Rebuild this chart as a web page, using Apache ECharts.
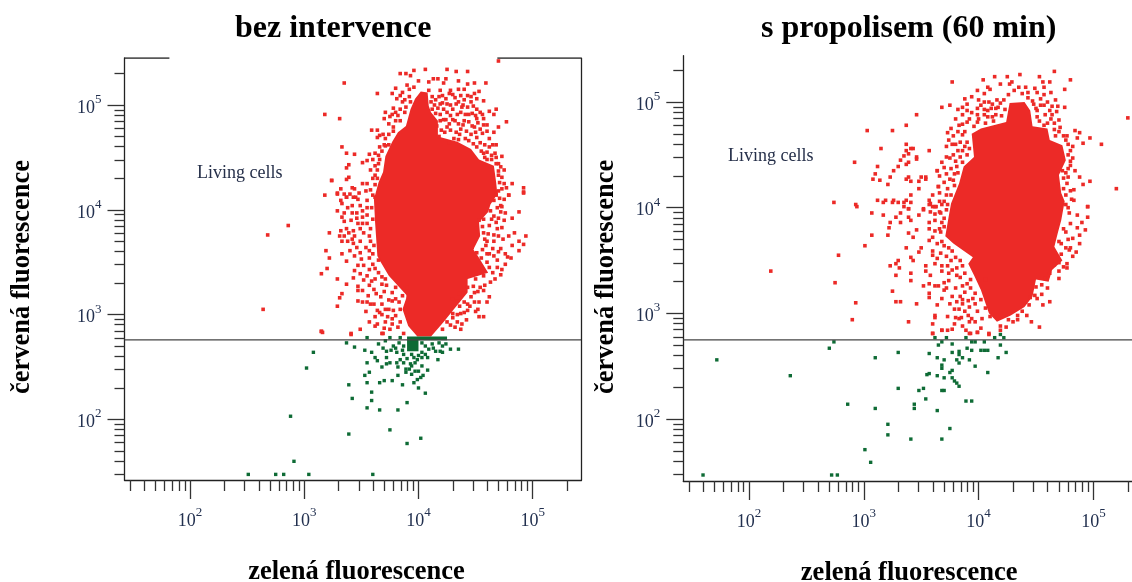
<!DOCTYPE html>
<html><head><meta charset="utf-8">
<style>html,body{margin:0;padding:0;background:#fff}#c{width:1132px;height:582px}</style>
<script src="https://cdn.jsdelivr.net/npm/echarts@6/dist/echarts.min.js"></script>
</head><body><div id="c"></div>
<script>
// All readings are decades: [log10(green), log10(red)]
const panelTitles = ['bez intervence', 's propolisem (60 min)'];
const xName = 'zelená fluorescence';
const yName = 'červená fluorescence';
const gateLabel = 'Living cells';
const majorTicks = [100, 1000, 10000, 100000];
const minorTicks = [30,40,50,60,70,80,90,200,300,400,500,600,700,800,900,2000,3000,4000,5000,6000,7000,8000,9000,20000,30000,40000,50000,60000,70000,80000,90000,200000];
const gateA = 575, gateB = 560;

const blobA = [[4.02,5.13],[4.08,5.12],[4.09,4.99],[4.11,4.93],[4.17,4.85],[4.17,4.70],[4.34,4.65],[4.46,4.58],[4.53,4.48],[4.66,4.42],[4.68,4.26],[4.69,4.15],[4.63,4.05],[4.61,3.98],[4.53,3.88],[4.54,3.75],[4.48,3.62],[4.52,3.56],[4.61,3.40],[4.43,3.34],[4.43,3.21],[4.31,3.05],[4.22,2.93],[4.11,2.79],[3.99,2.79],[3.91,2.89],[3.86,3.05],[3.90,3.18],[3.74,3.37],[3.67,3.50],[3.64,3.56],[3.62,3.88],[3.61,4.10],[3.65,4.26],[3.69,4.36],[3.71,4.51],[3.77,4.65],[3.82,4.74],[3.89,4.80],[3.93,4.96],[3.97,5.06]];
const blobB = [[4.40,5.00],[4.45,4.92],[4.47,4.77],[4.60,4.75],[4.62,4.64],[4.73,4.59],[4.76,4.45],[4.70,4.31],[4.72,4.14],[4.75,4.06],[4.72,3.88],[4.69,3.76],[4.66,3.63],[4.73,3.50],[4.64,3.41],[4.61,3.30],[4.50,3.32],[4.47,3.16],[4.40,3.06],[4.28,2.98],[4.16,2.92],[4.09,3.00],[4.02,3.22],[3.96,3.36],[3.91,3.47],[3.95,3.53],[3.86,3.60],[3.78,3.66],[3.71,3.73],[3.74,3.92],[3.76,4.04],[3.83,4.23],[3.87,4.39],[3.96,4.48],[3.94,4.70],[4.02,4.75],[4.24,4.81],[4.27,4.99]];
const greenCoreA = [[3.90,2.76],[4.00,2.76],[4.00,2.65],[3.90,2.65]];
const greenBandA = [[3.90,2.79],[4.25,2.79],[4.25,2.755],[3.90,2.755]];

const redA = [[3.29,4.15],[3.32,4.09],[3.33,4.06],[3.37,4.12],[3.43,4.12],[3.47,4.10],[3.55,4.09],[3.42,4.04],[3.49,4.04],[3.51,3.99],[3.42,3.97],[3.51,3.93],[3.29,3.99],[3.35,3.97],[3.35,3.89],[3.47,3.87],[3.51,3.87],[3.55,3.87],[3.60,3.91],[3.59,4.02],[3.62,4.12],[3.32,3.80],[3.37,3.82],[3.43,3.80],[3.49,3.82],[3.31,3.75],[3.35,3.75],[3.39,3.78],[3.33,3.70],[3.42,3.72],[3.43,3.68],[3.49,3.70],[3.57,3.75],[3.58,3.70],[3.61,3.66],[3.57,3.61],[3.49,3.59],[3.44,3.56],[3.50,3.53],[3.57,3.54],[3.65,3.52],[3.60,3.48],[3.62,3.44],[3.44,3.42],[3.47,3.47],[3.49,3.39],[3.55,3.37],[3.59,3.32],[3.62,3.34],[3.68,3.29],[3.61,3.24],[3.71,3.34],[3.47,3.27],[3.51,3.23],[3.47,3.23],[3.56,3.18],[3.67,3.17],[3.61,3.10],[3.47,3.13],[3.51,3.12],[3.58,3.10],[3.64,3.04],[3.71,3.05],[3.54,3.03],[3.62,2.98],[3.68,3.00],[3.78,3.04],[3.57,2.93],[3.64,2.91],[3.71,2.93],[3.62,2.89],[3.77,2.91],[3.84,2.93],[3.80,2.99],[3.84,3.05],[3.77,3.13],[3.83,3.12],[3.91,3.17],[3.80,3.26],[3.90,3.26],[3.72,3.28],[3.77,3.21],[3.49,2.86],[3.41,2.82],[3.15,2.84],[3.68,2.82],[3.87,2.82],[3.19,3.61],[3.22,3.54],[3.37,3.51],[3.20,3.44],[3.15,3.39],[3.29,3.34],[3.37,3.29],[3.33,3.20],[3.31,3.16],[3.29,3.08],[3.22,3.78],
[4.79,4.14],[4.92,4.17],[4.68,4.15],[4.66,4.09],[4.69,4.02],[4.72,3.98],[4.88,3.98],[4.63,3.99],[4.57,3.91],[4.53,3.90],[4.68,3.88],[4.73,3.83],[4.69,3.82],[4.51,3.82],[4.57,3.78],[4.70,3.75],[4.84,3.78],[4.79,3.75],[4.94,3.75],[4.88,3.70],[4.92,3.67],[4.82,3.66],[4.88,3.61],[4.66,3.70],[4.60,3.70],[4.59,3.66],[4.72,3.63],[4.65,3.63],[4.60,3.58],[4.51,3.59],[4.47,3.64],[4.69,3.52],[4.78,3.55],[4.81,3.54],[4.73,3.43],[4.69,3.45],[4.65,3.40],[4.57,3.37],[4.50,3.34],[4.63,3.31],[4.54,3.26],[4.57,3.23],[4.43,3.26],[4.49,3.21],[4.40,3.24],[4.62,3.17],[4.53,3.12],[4.49,3.12],[4.43,3.10],[4.34,3.13],[4.43,3.04],[4.50,3.03],[4.53,2.98],[4.57,2.98],[4.37,3.01],[4.30,3.01],[4.25,2.93],[4.34,2.93],[4.38,2.91],[4.37,2.86],[4.21,2.86],
[4.70,5.42],[3.35,5.21],[3.84,5.30],[3.89,5.30],[3.93,5.28],[3.96,5.33],[4.06,5.34],[4.25,5.34],[4.33,5.32],[4.43,5.32],[4.13,5.25],[4.17,5.25],[4.24,5.25],[4.09,5.22],[4.00,5.23],[4.35,5.23],[4.43,5.20],[4.49,5.21],[4.59,5.21],[4.22,5.21],[3.80,5.16],[3.92,5.15],[3.86,5.12],[3.77,5.11],[3.64,5.11],[4.19,5.14],[4.28,5.14],[4.35,5.15],[4.40,5.15],[4.53,5.13],[4.49,5.11],[4.09,5.14],[4.21,5.09],[4.30,5.10],[4.43,5.09],[4.51,5.06],[4.57,5.04],[3.81,5.06],[3.86,5.03],[3.93,5.03],[3.78,4.97],[3.71,4.93],[3.89,4.98],[4.11,5.03],[4.19,5.01],[4.25,5.01],[4.35,5.03],[4.46,5.03],[4.12,4.96],[4.22,4.96],[4.30,4.96],[4.38,4.98],[4.51,4.96],[4.68,4.96],[4.62,4.94],[4.54,4.93],[4.44,4.91],[4.66,4.91],[4.51,4.87],[4.57,4.87],[4.77,4.84],[4.60,4.81],[4.70,4.79],[4.66,4.74],[3.31,4.87],[3.70,4.87],[3.77,4.91],[3.84,4.85],[3.78,4.79],[3.59,4.76],[3.64,4.76],[3.66,4.71],[3.64,4.69],[3.71,4.68],[3.33,4.60],[3.37,4.54],[3.44,4.53],[3.57,4.53],[3.55,4.47],[3.51,4.45],[3.62,4.54],[3.68,4.56],[3.71,4.61],[3.39,4.43],[3.37,4.40],[3.65,4.44],[3.64,4.38],[3.39,4.31],[3.37,4.29],[3.24,4.28],[3.42,4.21],[3.51,4.25],[3.55,4.25],[3.62,4.24],[3.29,4.16],[3.37,4.12],[3.45,4.12],
[4.19,4.85],[4.24,4.86],[4.32,4.85],[4.40,4.85],[4.16,4.80],[4.25,4.79],[4.37,4.77],[4.49,4.79],[4.54,4.77],[4.18,4.70],[4.31,4.68],[4.41,4.68],[4.51,4.69],[4.62,4.68],[4.27,4.64],[4.65,4.62],[4.68,4.62],[4.51,4.60],[4.67,4.54],[4.73,4.51],[4.57,4.54],[4.60,4.48],[4.70,4.37],[4.75,4.38],[4.73,4.31],[4.70,4.44],[4.75,4.25],[4.82,4.25],[4.77,4.21],[4.92,4.21],[4.92,4.16],[4.79,4.14],[4.68,4.14],
[3.18,4.91],[3.18,4.14],[3.24,4.28],[2.68,3.76],[2.86,3.85],[2.64,3.05],[3.16,2.83],[3.15,2.84],[3.41,2.81],[3.69,2.82],
[4.12,5.08],[4.15,5.05],[4.18,5.08],[4.24,5.06],[4.27,5.11],[4.32,5.07],[4.37,5.09],[4.40,5.05],[4.46,5.08],[4.14,5.00],[4.17,4.97],[4.21,5.02],[4.28,5.00],[4.33,5.01],[4.39,5.00],[4.43,4.98],[4.48,4.99],[4.15,4.92],[4.19,4.91],[4.25,4.93],[4.28,4.90],[4.34,4.91],[4.37,4.93],[4.41,4.91],[4.47,4.92],[4.50,4.90],[4.56,4.91],[4.22,4.86],[4.27,4.82],[4.30,4.86],[4.35,4.82],[4.39,4.81],[4.44,4.84],[4.47,4.80],[4.52,4.83],[4.57,4.81],[4.20,4.76],[4.23,4.74],[4.28,4.76],[4.33,4.74],[4.36,4.72],[4.42,4.75],[4.46,4.72],[4.50,4.74],[4.56,4.73],[4.60,4.75],[4.35,4.67],[4.44,4.66],[4.48,4.63],[4.54,4.64],[4.58,4.62],[4.62,4.60],[4.55,4.56],[4.60,4.55],[4.64,4.52],[4.58,4.50],[4.64,4.48],[4.68,4.50],[4.68,4.44],[4.72,4.41],[4.70,4.33],[4.71,4.26],[4.73,4.20],[4.70,4.18],[4.75,4.10],[4.71,4.11],[4.72,4.04],
[3.96,5.17],[3.90,5.19],[3.92,5.08],[3.88,5.05],[3.84,5.09],[3.88,4.93],[3.84,4.96],[3.80,4.93],[3.82,4.90],[3.75,4.89],[3.80,4.85],[3.74,4.82],[3.78,4.75],[3.74,4.72],[3.69,4.72],[3.70,4.62],[3.74,4.62],[3.66,4.60],[3.65,4.52],[3.60,4.48],[3.66,4.48],[3.62,4.42],[3.58,4.38],[3.62,4.33],[3.60,4.30],[3.64,4.30],[3.58,4.19],[3.60,4.14],[3.54,4.18],[3.48,4.16],[3.44,4.20],[3.40,4.15],[3.35,4.15],[3.32,4.20],[3.55,4.02],[3.46,3.97],[3.38,4.02],[3.33,3.93],[3.41,3.90],[3.46,3.92],[3.55,3.95],[3.58,3.82],[3.52,3.78],[3.44,3.75],[3.38,3.70],[3.46,3.64],[3.54,3.64],[3.60,3.58],[3.40,3.61],[3.33,3.58],[3.52,3.47],[3.57,3.43],[3.43,3.35],[3.52,3.33],[3.57,3.28],[3.65,3.40],[3.68,3.36],[3.63,3.20],[3.70,3.22],[3.74,3.14],[3.68,3.10],[3.74,3.05],[3.80,3.15],[3.86,3.18],[3.55,3.12],[3.66,3.02],[3.73,2.98],[3.77,2.96],[3.82,2.88],[3.75,2.86],[3.70,2.87],
[4.30,3.15],[4.36,3.20],[4.40,3.12],[4.46,3.17],[4.36,3.08],[4.40,3.02],[4.45,3.08],[4.52,3.05],[4.48,3.27],[4.52,3.22],[4.58,3.28],[4.60,3.12],[4.30,2.97],[4.34,3.00],[4.28,2.90],[4.32,2.88],[4.42,2.95],
[4.62,3.45],[4.67,3.34],[4.72,3.38],[4.76,3.48],[4.70,3.60],[4.76,3.58],[4.62,3.58],[4.56,3.62],[4.55,3.54],[4.60,3.50],[4.66,3.56],[4.74,3.72],[4.66,3.76],[4.61,3.77],[4.58,3.72],[4.56,3.84],[4.62,3.85],[4.64,3.91],[4.70,3.92],[4.75,3.90],[4.76,3.97],[4.66,3.94],[4.82,3.92],[4.73,4.03]];

const greenA = [[3.37,2.73],[3.44,2.69],[3.53,2.66],[3.55,2.78],[3.08,2.64],[3.02,2.49],[3.55,2.54],[3.53,2.42],[3.57,2.45],[3.55,2.35],[3.39,2.33],[3.42,2.20],[3.59,2.26],[3.59,2.18],[3.55,2.11],[3.66,2.09],[3.82,2.09],[3.90,2.16],[3.75,1.90],[3.39,1.86],[3.90,1.77],[4.02,1.82],[2.88,2.03],[2.91,1.60],[2.51,1.475],[2.75,1.475],[2.82,1.475],[3.04,1.475],[3.60,1.475],[3.66,2.35],[3.70,2.37],[3.77,2.37],[3.86,2.33],[4.00,2.30],[4.06,2.25],[3.96,2.35],[3.99,2.38],[4.02,2.40],[4.04,2.42],[4.08,2.47],[4.00,2.46],[3.94,2.43],[3.89,2.45],[3.89,2.48],[3.82,2.42],[3.81,2.54],[3.82,2.50],[3.68,2.50],[3.64,2.56],[3.62,2.59],[3.59,2.64],[3.72,2.53],[3.75,2.54],[3.72,2.59],[3.87,2.54],[3.84,2.57],[3.87,2.62],[3.94,2.51],[3.97,2.54],[4.03,2.51],[3.65,2.72],[3.72,2.65],[3.81,2.64],[3.78,2.70],[3.71,2.75],[3.87,2.70],[3.75,2.78],[3.84,2.78],[4.28,2.67],[4.35,2.67],[4.17,2.57],[4.21,2.64],[4.03,2.73],[4.12,2.72],[4.18,2.73],[4.24,2.72],[4.09,2.67],[4.15,2.65],[4.19,2.65],[4.03,2.64],[4.00,2.61],[3.96,2.59],[4.08,2.59],[4.03,2.59],[3.94,2.62],[3.90,2.58],[3.93,2.53],[3.99,2.57],[3.83,2.73],[3.86,2.66],[4.06,2.70],[4.13,2.68],[4.21,2.70],[4.06,2.62],[3.80,2.68],[3.76,2.66],[3.69,2.68],[3.92,2.48],[3.97,2.46]];

const redB = [[3.01,3.64],[3.07,3.74],[3.21,3.74],[3.17,3.93],[3.23,3.86],[3.28,3.91],[3.32,3.95],[3.32,3.86],[3.39,3.99],[3.39,3.91],[3.41,3.88],[3.48,3.93],[3.52,3.98],[3.57,3.86],[3.67,3.95],[3.68,3.86],[3.22,3.81],[3.39,3.76],[3.46,3.79],[3.43,3.72],[3.57,3.80],[3.62,3.78],[3.67,3.77],[3.57,3.69],[3.68,3.68],[3.37,3.62],[3.50,3.62],[3.48,3.58],[3.60,3.59],[3.60,3.55],[3.67,3.57],[3.77,3.59],[3.41,3.53],[3.43,3.50],[3.30,3.50],[3.28,3.47],[3.23,3.45],[3.31,3.43],[3.28,3.36],[3.41,3.38],[3.41,3.31],[3.54,3.45],[3.54,3.40],[3.58,3.36],[3.62,3.47],[3.68,3.45],[3.73,3.45],[3.76,3.50],[3.77,3.41],[3.81,3.43],[3.81,3.36],[3.74,3.31],[3.70,3.29],[3.57,3.28],[3.52,3.26],[3.62,3.26],[3.65,3.26],[3.70,3.22],[3.25,3.21],[3.28,3.11],[3.32,3.11],[3.46,3.09],[3.57,3.19],[3.57,3.15],[3.68,3.14],[3.77,3.16],[3.80,3.24],[3.81,3.11],[3.86,3.13],[3.86,3.09],[3.84,3.16],[3.64,3.08],[3.75,3.09],[3.79,3.04],[3.83,3.04],[3.62,2.98],[3.62,2.96],[3.73,2.97],[3.80,2.96],[3.83,2.95],[3.91,2.98],[3.39,2.92],[3.60,2.90],[3.79,2.90],[3.68,2.84],[3.73,2.84],[3.77,2.85],[3.86,2.88],[3.89,2.84],[3.93,2.81],[3.99,2.82],[4.02,2.86],[4.09,2.80],[3.60,2.81],[3.92,3.06],[3.97,3.09],[3.99,3.02],[3.94,2.95],[3.93,3.24],[3.97,3.19],[3.93,3.32],[4.06,3.32],[4.02,3.13],[4.06,3.05],[4.03,2.95],[4.10,2.97],[4.19,2.88],[4.24,2.87],[4.19,2.84],[4.30,2.92],[4.34,2.94],[4.42,2.98],[4.46,2.92],[4.53,2.87],[4.62,3.11],[4.51,3.14],[4.55,3.18],[4.49,3.17],[4.45,3.15],[4.70,3.33],[4.70,3.40],[4.77,3.47],[4.77,3.43],[4.82,3.54],[4.85,3.58],[4.79,3.60],[4.72,3.66],[4.88,3.66],[4.82,3.71],[4.76,3.77],[4.88,3.74],[4.93,3.79],[4.86,3.81],[4.80,3.85],[4.90,3.86],[4.86,3.93],[4.79,3.95],[4.95,3.91],[4.95,4.01],[4.83,4.07],[4.58,3.33],
[4.66,5.29],[4.36,5.26],[4.25,5.24],[4.14,5.24],[4.04,5.21],[3.77,5.19],[4.53,5.24],[4.56,5.19],[4.62,5.19],[4.80,5.21],[4.57,5.14],[4.49,5.13],[4.41,5.14],[4.35,5.14],[4.29,5.19],[4.27,5.17],[4.19,5.17],[4.08,5.14],[4.10,5.12],[3.99,5.11],[4.75,5.12],[4.63,5.09],[4.57,5.07],[4.51,5.09],[4.43,5.09],[4.38,5.08],[4.31,5.11],[4.26,5.07],[4.05,5.08],[4.43,5.04],[4.54,5.03],[4.67,5.02],[3.90,4.98],[3.86,4.95],[3.68,4.95],[3.75,4.97],[3.94,4.90],[3.86,4.88],[3.99,4.88],[4.09,5.00],[4.19,4.99],[4.02,4.97],[4.48,4.98],[4.57,4.97],[4.69,4.96],[4.75,4.95],[4.51,4.92],[4.62,4.92],[4.08,4.92],[4.15,4.94],[4.12,4.86],[4.05,4.88],[3.92,4.84],[3.90,4.81],[3.83,4.78],[3.99,4.81],[4.51,4.86],[4.63,4.84],[4.70,4.83],[4.57,4.78],[4.70,4.72],[4.84,4.73],[4.88,4.71],[4.77,4.68],[4.97,4.66],[4.86,4.66],[4.91,4.61],[5.07,4.60],[4.82,4.58],[4.82,4.47],[4.80,4.40],[4.84,4.35],[4.88,4.29],[5.30,4.85],[5.20,4.18],[4.97,4.25],[4.91,4.22],[4.83,4.17],[4.95,4.01],[4.81,4.08],[4.77,4.23],[4.76,4.33],[3.76,4.75],[3.73,4.71],[3.86,4.69],[3.78,4.68],[3.77,4.60],[3.72,4.58],[3.86,4.54],[3.90,4.62],[3.92,4.56],[3.90,4.50],[3.75,4.47],[3.86,4.43],[3.64,4.35],[3.76,4.37],[3.81,4.39],[3.79,4.32],[3.75,4.27],[3.65,4.20],[3.73,4.18],[3.79,4.21],[3.76,4.12],[3.68,4.03],[3.62,4.01],[3.58,4.04],[3.73,4.03],
[3.46,4.88],[3.37,4.78],[3.25,4.73],[3.03,4.73],[3.37,4.60],[3.15,4.56],[3.37,4.54],[3.41,4.56],[3.43,4.56],[3.57,4.54],[3.39,4.51],[3.35,4.49],[3.46,4.48],[3.46,4.46],[2.92,4.43],[3.39,4.43],[3.37,4.41],[3.12,4.39],[3.30,4.39],[3.26,4.35],[3.10,4.32],[3.23,4.29],[3.08,4.27],[3.39,4.29],[3.37,4.27],[3.50,4.29],[3.54,4.29],[3.54,4.27],[3.41,4.25],[3.48,4.25],[3.64,4.35],[3.21,4.22],[3.48,4.18],[3.65,4.20],[3.41,4.12],[3.12,4.07],[3.19,4.07],[3.17,4.05],[2.74,4.05],[3.25,4.05],[3.30,4.05],[3.35,4.05],[3.37,4.07],[3.41,4.05],[3.57,4.07],[3.57,4.03],[2.94,4.01],[3.35,4.01],[3.39,3.99],[3.52,3.99],[3.60,4.01],[3.63,4.01],
[2.19,3.40],[2.75,3.29],[2.78,3.55],[2.93,4.03],[2.93,3.10],[2.90,2.94],[3.07,3.95],[3.14,4.26],[3.26,4.07],[3.32,4.45],
[3.60,2.81],[3.68,2.84],[3.92,2.81],[3.99,2.82],[4.09,2.81],
[4.00,5.02],[4.05,5.00],[4.12,4.98],[4.16,5.02],[4.22,5.02],[3.99,4.94],[4.05,4.93],[4.11,4.94],[4.17,4.95],[4.23,4.93],[4.00,4.84],[4.08,4.86],[4.15,4.88],[4.20,4.87],[4.06,4.80],[4.13,4.82],[3.96,4.77],[4.47,5.01],[4.54,4.97],[4.60,5.00],[4.64,4.96],[4.50,4.94],[4.58,4.88],[4.64,4.88],[4.68,4.91],[4.53,4.82],[4.60,4.80],[4.66,4.80],[4.66,4.74],[4.71,4.76],[4.74,4.68],[4.67,4.68],[4.78,4.60],[4.76,4.64],[4.80,4.54],[4.78,4.50],[4.80,4.44],[4.78,4.37],[4.73,4.35],[4.74,4.28],[4.78,4.29],[4.74,4.18],[4.76,4.12],[4.80,4.16],[4.76,4.03],[4.78,4.00],
[3.94,5.05],[3.88,5.03],[3.90,4.92],[3.82,4.93],[3.80,4.84],[3.86,4.79],[3.88,4.72],[3.82,4.72],[3.74,4.64],[3.80,4.60],[3.84,4.62],[3.88,4.58],[3.82,4.54],[3.78,4.50],[3.84,4.48],[3.72,4.48],[3.68,4.43],[3.80,4.44],[3.70,4.38],[3.82,4.33],[3.72,4.32],[3.66,4.30],[3.78,4.26],[3.70,4.24],[3.66,4.14],[3.72,4.12],[3.70,4.06],[3.66,4.06],[3.60,4.12],[3.72,3.98],[3.66,3.96],[3.62,3.94],[3.58,3.96],[3.70,3.90],[3.62,3.88],[3.70,3.82],[3.66,3.80],[3.60,3.72],[3.64,3.66],[3.70,3.64],[3.74,3.62],[3.64,3.52],[3.72,3.54],[3.80,3.53],[3.84,3.50],[3.86,3.45],[3.68,3.40],[3.74,3.38],[3.84,3.34],[3.88,3.38],[3.72,3.24],[3.86,3.26],[3.90,3.28],[3.88,3.20],[3.91,3.12],[3.95,3.14],[3.88,3.02],[3.92,2.92],[3.97,2.92],[3.85,2.96],
[4.70,3.68],[4.76,3.62],[4.74,3.80],[4.78,3.70],[4.72,3.56],[4.80,3.62],[4.70,3.48],[4.74,3.44],[4.66,3.46],[4.62,3.38],[4.60,3.24],[4.55,3.27],[4.50,3.25],[4.56,3.08],[4.44,3.08],[4.38,3.02],[4.34,2.98],[4.26,2.94]];

const greenB = [[1.60,1.47],[2.72,1.47],[2.77,1.47],[1.72,2.56],[2.36,2.41],[2.70,2.67],[2.74,2.73],[3.10,2.58],[3.30,2.63],[2.86,2.14],[3.10,2.10],[3.30,2.29],[3.21,1.95],[3.21,1.85],[3.01,1.71],[3.06,1.59],[3.41,1.81],[3.68,1.81],[3.75,1.91],[3.64,2.08],[3.44,2.14],[3.44,2.10],[3.54,2.19],[3.48,2.27],[3.52,2.29],[3.68,2.27],[3.70,2.27],[3.89,2.17],[3.94,2.17],[3.55,2.42],[3.57,2.43],[3.64,2.41],[3.70,2.39],[3.75,2.44],[3.77,2.46],[3.77,2.39],[3.79,2.36],[3.81,2.34],[3.83,2.31],[3.68,2.51],[3.68,2.48],[3.70,2.56],[3.64,2.58],[3.57,2.62],[3.77,2.63],[3.81,2.56],[3.83,2.53],[3.86,2.58],[3.83,2.64],[3.83,2.61],[3.92,2.56],[3.97,2.50],[4.08,2.44],[4.17,2.58],[4.24,2.63],[4.19,2.70],[3.94,2.65],[3.90,2.67],[4.02,2.65],[4.05,2.65],[4.08,2.65],[3.94,2.73],[3.97,2.73],[4.05,2.73],[3.77,2.71],[3.68,2.73],[3.65,2.70],[3.72,2.77],[3.62,2.77],[3.89,2.77],[4.14,2.77],[4.22,2.77],[4.19,2.80]];

const toValues = rows => rows.map(([a, b]) => [Math.pow(10, a), Math.pow(10, b)]);

const panels = [
  {grid:{left:124.5,top:58,width:457,height:422,outerBoundsMode:'none'}, xr:[26.7,267300], yr:[26.4,280900], blob:blobA, red:redA, green:greenA, gate:gateA, solidGreen:[greenCoreA,greenBandA], xPad:7, yPad:16, yGap:89, xGap:79},
  {grid:{left:683.3,top:55.7,width:448.7,height:425.3,outerBoundsMode:'none'}, xr:[26.8,216900], yr:[25.9,274500], blob:blobB, red:redB, green:greenB, gate:gateB, solidGreen:[], xPad:3, yPad:17, yGap:64, xGap:79}
];

const RED = '#ec2a27', GREEN = '#0e6b35';
const labelRich = {d:{fontFamily:'Liberation Serif',fontSize:18,color:'#22304f',verticalAlign:'bottom',lineHeight:24},
                   s:{fontFamily:'Liberation Serif',fontSize:13,color:'#22304f',verticalAlign:'top',lineHeight:13}};
const decadeLabel = v => '{d|10}{s|' + Math.round(Math.log(v) / Math.LN10) + '}';

const grids=[], xAxes=[], yAxes=[], series=[];
const polygon = (pts, color, i) => ({
  type:'custom', xAxisIndex:i*2, yAxisIndex:i*2, silent:true, clip:true, animation:false,
  data:toValues(pts),
  renderItem:(params, api) => params.dataIndex === 0 ? {
    type:'polygon',
    shape:{points:toValues(pts).map(p => api.coord(p))},
    style:{fill:color, stroke:null}
  } : null
});
panels.forEach((p, i) => {
  grids.push(p.grid);
  const lineStyle = {color:'#222', width:1.3};
  const tickStyle = {color:'#333', width:1.3};
  const tickMajorX = {show:true, length:19, customValues:majorTicks, lineStyle:tickStyle};
  const tickMajorY = {show:true, length:17, customValues:majorTicks, lineStyle:tickStyle};
  xAxes.push({type:'log', gridIndex:i, min:p.xr[0], max:p.xr[1], position:'bottom',
    axisLine:{show:true,onZero:false,lineStyle}, axisTick:tickMajorX, splitLine:{show:false}, minorTick:{show:false},
    axisLabel:{show:true, customValues:majorTicks, formatter:decadeLabel, margin:26, rich:labelRich, hideOverlap:false, showMinLabel:true, showMaxLabel:true},
    name:xName, nameLocation:'middle', nameGap:p.xGap,
    nameTextStyle:{fontFamily:'Liberation Serif',fontWeight:'bold',fontSize:26.5,color:'#000',padding:[0,0,0,p.xPad]}});
  xAxes.push({type:'log', gridIndex:i, min:p.xr[0], max:p.xr[1], position:'bottom',
    axisLine:{show:false,onZero:false}, axisTick:{show:true,length:11,customValues:minorTicks,lineStyle:tickStyle},
    axisLabel:{show:false}, splitLine:{show:false}});
  yAxes.push({type:'log', gridIndex:i, min:p.yr[0], max:p.yr[1], position:'left',
    axisLine:{show:true,onZero:false,lineStyle}, axisTick:tickMajorY, splitLine:{show:false}, minorTick:{show:false},
    axisLabel:{show:true, customValues:majorTicks, formatter:decadeLabel, margin:23, rich:labelRich, hideOverlap:false},
    name:yName, nameLocation:'middle', nameGap:p.yGap, nameRotate:90,
    nameTextStyle:{fontFamily:'Liberation Serif',fontWeight:'bold',fontSize:26.5,color:'#000',padding:[0,p.yPad,0,0]}});
  yAxes.push({type:'log', gridIndex:i, min:p.yr[0], max:p.yr[1], position:'left',
    axisLine:{show:false,onZero:false}, axisTick:{show:true,length:10,customValues:minorTicks,lineStyle:tickStyle},
    axisLabel:{show:false}, splitLine:{show:false}});
  series.push(polygon(p.blob, RED, i));
  series.push({type:'scatter', xAxisIndex:i*2, yAxisIndex:i*2, symbol:'rect', symbolSize:3.6, silent:true, animation:false,
    itemStyle:{color:RED, opacity:1}, data:toValues(p.red)});
  p.solidGreen.forEach(g => series.push(polygon(g, GREEN, i)));
  series.push({type:'scatter', xAxisIndex:i*2, yAxisIndex:i*2, symbol:'rect', symbolSize:3.4, silent:true, animation:false,
    itemStyle:{color:GREEN, opacity:1}, data:toValues(p.green)});
  series.push({type:'line', xAxisIndex:i*2, yAxisIndex:i*2, showSymbol:false, silent:true, animation:false,
    lineStyle:{color:'#444',width:1.2}, data:[[p.xr[0],p.gate],[p.xr[1],p.gate]]});
});
// open frame of the left panel: the top edge is broken by the title area
const frameA = [[26.7,280900],[66,280900],[null,null],[49000,280900],[267300,280900],[267300,26.4]];
series.push({type:'line', xAxisIndex:0, yAxisIndex:0, showSymbol:false, silent:true, animation:false, connectNulls:false,
  lineStyle:{color:'#222',width:1.3}, data:frameA});

const titleStyle = {fontFamily:'Liberation Serif',fontWeight:'bold',fontSize:32,color:'#000'};
const noteStyle = {fontFamily:'Liberation Serif',fontWeight:'normal',fontSize:18,color:'#26304a'};
const option = {
  backgroundColor:'#fff', animation:false,
  title:[
    {text:panelTitles[0], left:235, top:13, padding:0, textStyle:titleStyle},
    {text:panelTitles[1], left:761, top:13, padding:0, textStyle:titleStyle},
    {text:gateLabel, left:197, top:164, padding:0, textStyle:noteStyle},
    {text:gateLabel, left:728, top:147, padding:0, textStyle:noteStyle}
  ],
  grid:grids, xAxis:xAxes, yAxis:yAxes, series
};
echarts.init(document.getElementById('c'), null, {renderer:'canvas'}).setOption(option);
</script></body></html>
